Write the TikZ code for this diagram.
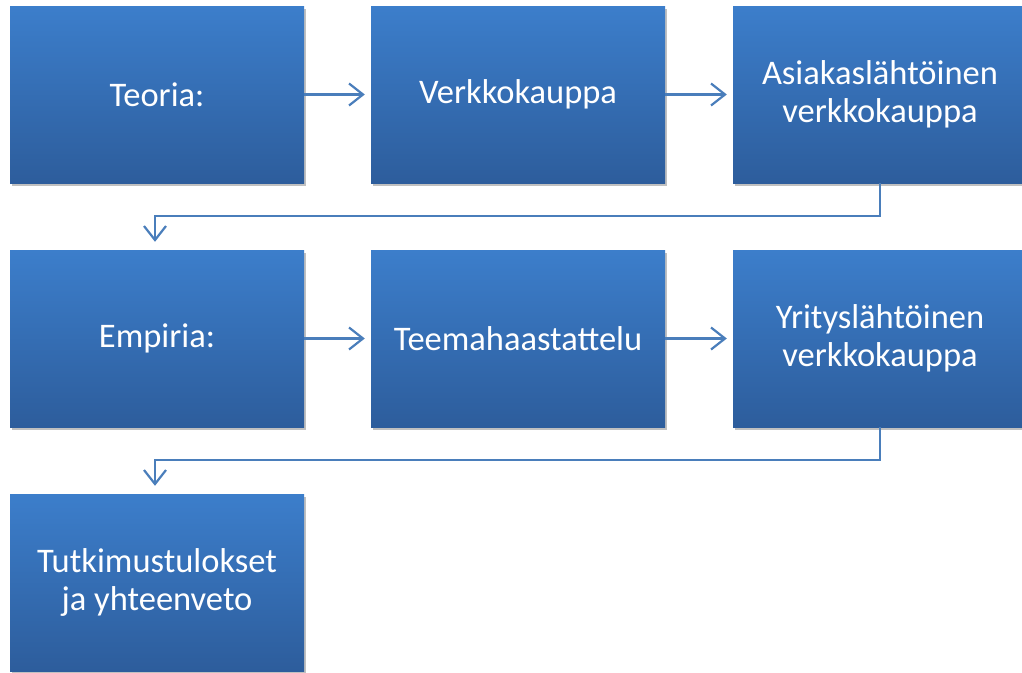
\documentclass[tikz,border=0pt]{standalone}
\usepackage{fontspec}
\setmainfont{Carlito}
\usetikzlibrary{arrows.meta,shadows}
\definecolor{boxtop}{HTML}{3C7ECB}
\definecolor{boxbot}{HTML}{2D5D9C}
\definecolor{arrowc}{HTML}{4A7EBB}
\begin{document}
\begin{tikzpicture}[x=1pt,y=1pt,
  box/.style={rectangle, minimum width=294pt, minimum height=177pt, inner sep=0pt,
    top color=boxtop, bottom color=boxbot, text=white, align=center,
    font=\fontsize{34.5}{38.5}\selectfont,
    drop shadow={shadow xshift=2pt, shadow yshift=-3pt, opacity=0.35, fill=black!70}},
  conn/.style={draw=arrowc, line width=2.2pt, -{Straight Barb[length=14pt,width=22pt,line width=2.2pt]}}]
\useasboundingbox (0,0) rectangle (1022,-672);
\fill[white] (0,0) rectangle (1022,-672);
\node[box] (teoria) at (157,-94.5) {Teoria:};
\node[box] (verkko) at (518,-94.5) {Verkkokauppa};
\node[box] (asiakas) at (880,-94.5) {Asiakaslähtöinen\\verkkokauppa};
\node[box] (empiria) at (157,-338.5) {Empiria:};
\node[box] (teema) at (518,-338.5) {Teemahaastattelu};
\node[box] (yritys) at (880,-338.5) {Yrityslähtöinen\\verkkokauppa};
\node[box] (tutk) at (157,-582.5) {Tutkimustulokset\\ja yhteenveto};
\draw[conn, shorten >=6pt] (teoria) -- (verkko);
\draw[conn, shorten >=6pt] (verkko) -- (asiakas);
\draw[conn, shorten >=6pt] (empiria) -- (teema);
\draw[conn, shorten >=6pt] (teema) -- (yritys);
\coordinate (c1) at (880,-216);
\coordinate (c2) at (155,-216);
\draw[conn, shorten >=8pt] (asiakas.south) -- (c1) -- (c2) -- (c2 |- empiria.north);
\coordinate (c3) at (880,-460);
\coordinate (c4) at (155,-460);
\draw[conn, shorten >=8pt] (yritys.south) -- (c3) -- (c4) -- (c4 |- tutk.north);
\end{tikzpicture}
\end{document}
